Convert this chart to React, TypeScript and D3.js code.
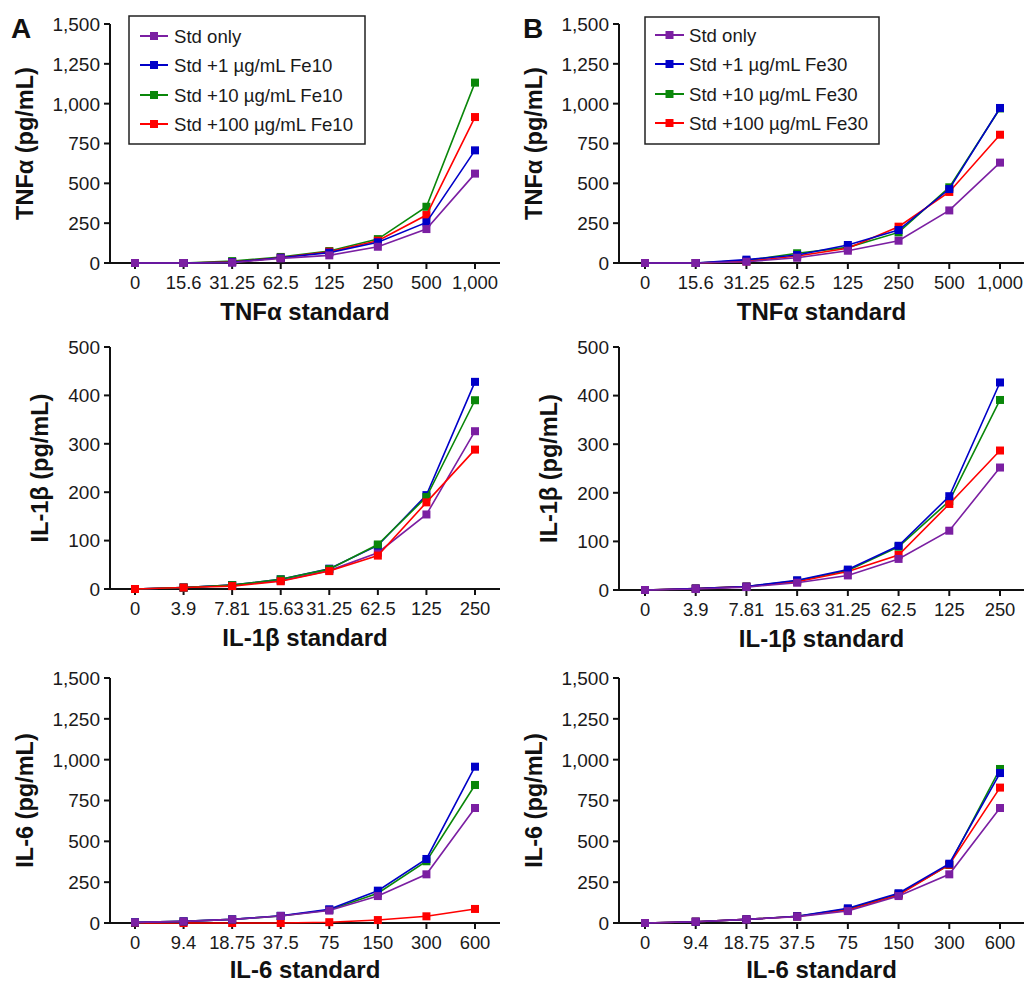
import React from "react";
import * as d3 from "d3";

// ---------- Data ----------
const TNF_CATS = ["0", "15.6", "31.25", "62.5", "125", "250", "500", "1,000"];
const IL1B_CATS = ["0", "3.9", "7.81", "15.63", "31.25", "62.5", "125", "250"];
const IL6_CATS = ["0", "9.4", "18.75", "37.5", "75", "150", "300", "600"];

const SERIES_FE10 = ["Std only", "Std +1 µg/mL Fe10", "Std +10 µg/mL Fe10", "Std +100 µg/mL Fe10"];
const SERIES_FE30 = ["Std only", "Std +1 µg/mL Fe30", "Std +10 µg/mL Fe30", "Std +100 µg/mL Fe30"];

// order in each: [Std only, +1, +10, +100]
const TNF_FE10 = [
  [0, 0, 2, 29, 48, 102, 213, 561],
  [0, 0, 5, 33, 65, 130, 255, 707],
  [0, 0, 12, 38, 75, 150, 353, 1132],
  [0, 0, 6, 33, 71, 140, 301, 916],
];
const TNF_FE30 = [
  [0, 0, 8, 33, 77, 140, 330, 630],
  [0, 0, 21, 50, 113, 207, 464, 973],
  [0, 0, 15, 61, 98, 192, 475, 970],
  [0, 0, 10, 44, 92, 228, 446, 805],
];
const IL1B_FE10 = [
  [0, 3, 8, 17, 38, 75, 154, 326],
  [0, 3, 8, 20, 42, 90, 194, 428],
  [0, 3, 8, 20, 41, 92, 190, 390],
  [0, 3, 6, 16, 37, 69, 179, 288],
];
const IL1B_FE30 = [
  [0, 2, 6, 15, 30, 64, 122, 252],
  [0, 3, 7, 20, 42, 91, 193, 427],
  [0, 3, 7, 19, 40, 89, 183, 391],
  [0, 3, 7, 17, 38, 72, 177, 287],
];
const IL6_FE10 = [
  [4, 10, 22, 43, 76, 165, 298, 704],
  [4, 10, 22, 44, 84, 198, 392, 957],
  [4, 10, 22, 43, 80, 182, 378, 845],
  [0, 0, 0, 0, 5, 18, 41, 86],
];
const IL6_FE30 = [
  [0, 8, 22, 39, 73, 165, 298, 704],
  [0, 8, 22, 41, 90, 182, 363, 918],
  [0, 8, 22, 41, 85, 178, 355, 943],
  [0, 8, 22, 40, 80, 171, 357, 829],
];

const TICKS_1500 = [0, 250, 500, 750, 1000, 1250, 1500];
const TICKS_500 = [0, 100, 200, 300, 400, 500];

const COLORS = ["#7b1fa2", "#0000c8", "#0a870a", "#ff0000"];

// ---------- Layout ----------
const FONT = "'Liberation Sans', Arial, Helvetica, sans-serif";

type Panel = {
  axisX: number;
  xEnd: number;
  ptStart: number;
  ptEnd: number;
  yTop: number;
  yBot: number;
  max: number;
  ticks: number[];
  cats: string[];
  data: number[][];
  xTitle: string;
  yTitle: string;
  yTitleOff: number;
  order: number[];
  legend?: { names: string[]; x0: number; x1: number; y0: number; y1: number; rows: number[]; lx0: number; lx1: number; tx: number };
  letter?: { text: string; x: number };
};

const COL_A = { axisX: 110, xEnd: 500, ptStart: 135, ptEnd: 475 };
const COL_B = { axisX: 619, xEnd: 1024, ptStart: 645, ptEnd: 1000 };

const PANELS: Panel[] = [
  {
    ...COL_A, yTop: 24, yBot: 263, max: 1500, ticks: TICKS_1500, cats: TNF_CATS, data: TNF_FE10,
    xTitle: "TNFα standard", yTitle: "TNFα (pg/mL)", yTitleOff: 77, order: [2, 3, 1, 0],
    legend: { names: SERIES_FE10, x0: 129, x1: 365, y0: 16, y1: 144, rows: [36, 65, 95, 124], lx0: 140, lx1: 168, tx: 174 },
    letter: { text: "A", x: 11 },
  },
  {
    ...COL_B, yTop: 24, yBot: 263, max: 1500, ticks: TICKS_1500, cats: TNF_CATS, data: TNF_FE30,
    xTitle: "TNFα standard", yTitle: "TNFα (pg/mL)", yTitleOff: 77, order: [2, 3, 1, 0],
    legend: { names: SERIES_FE30, x0: 645, x1: 879, y0: 17, y1: 144, rows: [35, 64, 94, 123], lx0: 655, lx1: 684, tx: 689 },
    letter: { text: "B", x: 523 },
  },
  {
    ...COL_A, yTop: 347, yBot: 589, max: 500, ticks: TICKS_500, cats: IL1B_CATS, data: IL1B_FE10,
    xTitle: "IL-1β standard", yTitle: "IL-1β (pg/mL)", yTitleOff: 62, order: [0, 1, 2, 3],
  },
  {
    ...COL_B, yTop: 347, yBot: 590, max: 500, ticks: TICKS_500, cats: IL1B_CATS, data: IL1B_FE30,
    xTitle: "IL-1β standard", yTitle: "IL-1β (pg/mL)", yTitleOff: 62, order: [2, 3, 1, 0],
  },
  {
    ...COL_A, yTop: 678, yBot: 923, max: 1500, ticks: TICKS_1500, cats: IL6_CATS, data: IL6_FE10,
    xTitle: "IL-6 standard", yTitle: "IL-6 (pg/mL)", yTitleOff: 77, order: [3, 2, 1, 0],
  },
  {
    ...COL_B, yTop: 678, yBot: 923, max: 1500, ticks: TICKS_1500, cats: IL6_CATS, data: IL6_FE30,
    xTitle: "IL-6 standard", yTitle: "IL-6 (pg/mL)", yTitleOff: 77, order: [2, 3, 1, 0],
  },
];

const fmt = d3.format(",");
const MS = 8; // marker size

function ChartPanel({ p }: { p: Panel }) {
  const x = d3.scalePoint<string>().domain(p.cats).range([p.ptStart, p.ptEnd]);
  const y = d3.scaleLinear().domain([0, p.max]).range([p.yBot, p.yTop]);
  const line = d3
    .line<number>()
    .x((_, i) => x(p.cats[i]) as number)
    .y((d) => y(d));
  const midY = (p.yTop + p.yBot) / 2;
  const midX = (p.axisX + p.xEnd) / 2;
  return (
    <g>
      {/* axes */}
      <line x1={p.axisX} x2={p.axisX} y1={p.yTop} y2={p.yBot} stroke="#111" strokeWidth={2} />
      <line x1={p.axisX - 6} x2={p.xEnd} y1={p.yBot} y2={p.yBot} stroke="#111" strokeWidth={2} />
      {p.ticks.map((t) => (
        <g key={t}>
          <line x1={p.axisX - 6} x2={p.axisX} y1={y(t)} y2={y(t)} stroke="#111" strokeWidth={2} />
          <text x={p.axisX - 10} y={y(t)} dy="0.36em" textAnchor="end" fontSize={19} fill="#1a1a1a">
            {fmt(t)}
          </text>
        </g>
      ))}
      {p.cats.map((c) => (
        <g key={c}>
          <line x1={x(c)} x2={x(c)} y1={p.yBot} y2={p.yBot + 6} stroke="#111" strokeWidth={2} />
          <text x={x(c)} y={p.yBot + 26} textAnchor="middle" fontSize={18.4} fill="#1a1a1a">
            {c}
          </text>
        </g>
      ))}
      <text x={midX} y={Math.min(p.yBot + 57, 978)} textAnchor="middle" fontSize={24} fontWeight="bold" fill="#111">
        {p.xTitle}
      </text>
      <text
        transform={`translate(${p.axisX - p.yTitleOff},${midY}) rotate(-90)`}
        textAnchor="middle"
        fontSize={23.5}
        fontWeight="bold"
        fill="#111"
      >
        {p.yTitle}
      </text>
      {/* series */}
      {p.order.map((si) => (
        <g key={si}>
          <path d={line(p.data[si]) || ""} fill="none" stroke={COLORS[si]} strokeWidth={1.6} />
          {p.data[si].map((v, i) => (
            <rect
              key={i}
              x={(x(p.cats[i]) as number) - MS / 2}
              y={y(v) - MS / 2}
              width={MS}
              height={MS}
              fill={COLORS[si]}
            />
          ))}
        </g>
      ))}
      {p.legend && (
        <g>
          <rect
            x={p.legend.x0}
            y={p.legend.y0}
            width={p.legend.x1 - p.legend.x0}
            height={p.legend.y1 - p.legend.y0}
            fill="white"
            stroke="#222"
            strokeWidth={1.5}
          />
          {p.legend.names.map((n, i) => {
            const ly = p.legend!.rows[i];
            const cx = (p.legend!.lx0 + p.legend!.lx1) / 2;
            return (
              <g key={n}>
                <line x1={p.legend!.lx0} x2={p.legend!.lx1} y1={ly} y2={ly} stroke={COLORS[i]} strokeWidth={2} />
                <rect x={cx - MS / 2} y={ly - MS / 2} width={MS} height={MS} fill={COLORS[i]} />
                <text x={p.legend!.tx} y={ly} dy="0.36em" fontSize={18.6} fill="#1a1a1a">
                  {n}
                </text>
              </g>
            );
          })}
        </g>
      )}
      {p.letter && (
        <text x={p.letter.x} y={38} fontSize={28} fontWeight="bold" fill="#111">
          {p.letter.text}
        </text>
      )}
    </g>
  );
}

export default function App() {
  return (
    <svg
      width={1024}
      height={982}
      viewBox="0 0 1024 982"
      style={{ position: "absolute", left: 0, top: 0, background: "white", fontFamily: FONT }}
    >
      <rect x={0} y={0} width={1024} height={982} fill="white" />
      {PANELS.map((p, i) => (
        <ChartPanel key={i} p={p} />
      ))}
    </svg>
  );
}
